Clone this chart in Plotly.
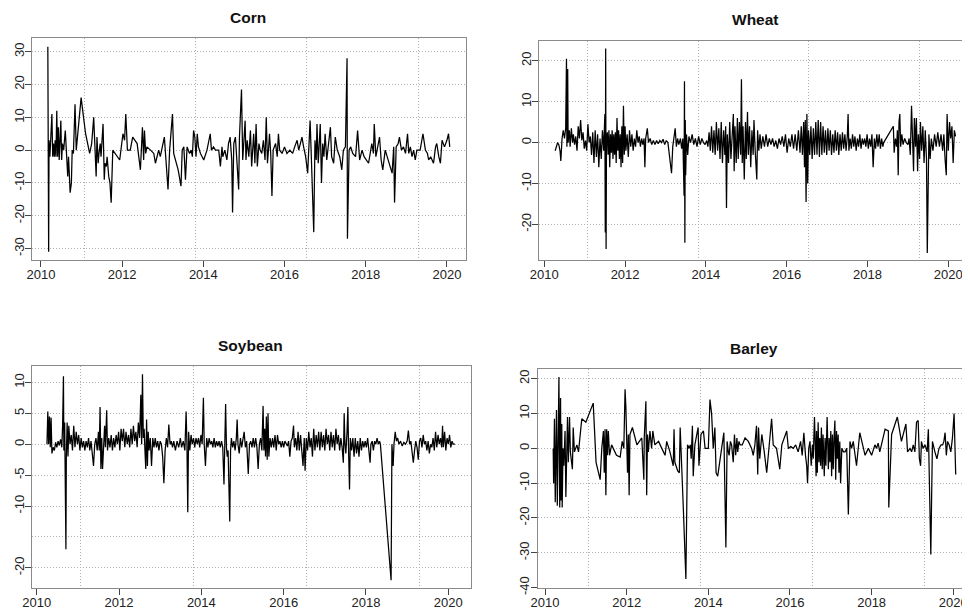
import plotly.graph_objects as go

# ---------------- data ----------------
corn_t = [2010.17, 2010.19, 2010.20, 2010.22, 2010.24, 2010.27, 2010.29, 2010.31, 2010.33, 2010.35,
          2010.37, 2010.39, 2010.41, 2010.43, 2010.45, 2010.47, 2010.49, 2010.51, 2010.53, 2010.56,
          2010.60, 2010.63, 2010.66, 2010.68, 2010.70, 2010.72, 2010.75, 2010.77, 2010.80, 2010.84,
          2010.87, 2010.90, 2010.99, 2011.03, 2011.10, 2011.20, 2011.25, 2011.30, 2011.33, 2011.36,
          2011.38, 2011.41, 2011.43, 2011.46, 2011.48, 2011.50, 2011.53, 2011.56, 2011.58, 2011.61,
          2011.63, 2011.67, 2011.70, 2011.73, 2011.77, 2011.94, 2012.02, 2012.06, 2012.09, 2012.13,
          2012.20, 2012.26, 2012.37, 2012.45, 2012.48, 2012.50, 2012.53, 2012.55, 2012.58, 2012.61,
          2012.70, 2012.78, 2012.82, 2012.90, 2012.94, 2013.04, 2013.13, 2013.17, 2013.24, 2013.27,
          2013.38, 2013.45, 2013.48, 2013.52, 2013.56, 2013.60, 2013.66, 2013.70, 2013.73, 2013.76,
          2013.79, 2013.82, 2013.85, 2013.88, 2013.93, 2014.01, 2014.09, 2014.13, 2014.17, 2014.20,
          2014.25, 2014.30, 2014.38, 2014.42, 2014.46, 2014.48, 2014.53, 2014.58, 2014.62, 2014.66,
          2014.70, 2014.72, 2014.75, 2014.79, 2014.82, 2014.87, 2014.89, 2014.94, 2014.97, 2015.00,
          2015.03, 2015.05, 2015.08, 2015.12, 2015.16, 2015.19, 2015.22, 2015.24, 2015.27, 2015.30,
          2015.33, 2015.37, 2015.40, 2015.44, 2015.48, 2015.52, 2015.55, 2015.58, 2015.61, 2015.63,
          2015.66, 2015.69, 2015.72, 2015.78, 2015.82, 2015.85, 2015.88, 2015.94, 2016.00, 2016.06,
          2016.13, 2016.20, 2016.25, 2016.31, 2016.35, 2016.43, 2016.47, 2016.52, 2016.57, 2016.60,
          2016.63, 2016.66, 2016.69, 2016.72, 2016.75, 2016.78, 2016.80, 2016.83, 2016.86, 2016.88,
          2016.91, 2016.94, 2016.97, 2017.00, 2017.04, 2017.08, 2017.13, 2017.16, 2017.21, 2017.25,
          2017.30, 2017.36, 2017.41, 2017.45, 2017.50, 2017.54, 2017.55, 2017.59, 2017.63, 2017.68,
          2017.75, 2017.80, 2017.85, 2017.91, 2017.96, 2018.07, 2018.12, 2018.15, 2018.19, 2018.21,
          2018.25, 2018.30, 2018.34, 2018.38, 2018.42, 2018.48, 2018.56, 2018.65, 2018.69, 2018.71,
          2018.75, 2018.80, 2018.83, 2018.88, 2018.93, 2018.98, 2019.03, 2019.06, 2019.10, 2019.14,
          2019.18, 2019.22, 2019.26, 2019.34, 2019.41, 2019.47, 2019.52, 2019.55, 2019.60, 2019.67,
          2019.72, 2019.75, 2019.80, 2019.84, 2019.88, 2019.94, 2020.00, 2020.04, 2020.07]
corn_v = [31.5, -31, 3, -2, 3, 11, -2, 2, -2, 3,
          -2, 12, -2, 7, -3, 3, 9, -3, 2, 0,
          6, -1, -8, -2, -6, -13, -10, 0, -1, 14,
          0, 4, 16, 12, 5, -1, 2, 10, 3, -8,
          4, -4, -1, 2, -2, 2, 8, -9, -4, -5,
          -2, -8, -10, -16, 0, -3, 5, 3, 11, 0,
          0, 4, 2, -6, 1, 7, -3, 6, -1, 1,
          0, -1, -4, 0, -2, 4, -12, 0, 11, -1,
          -6, -11, 0, 1, -9, 1, -1, 0, -2, 6,
          4, -2, 5, 1, -1, -3, 0, 3, 5, 0,
          1, 0, 0, -5, 1, -2, 0, -3, 2, 4,
          -3, -19, 2, 4, -2, -12, 4, 18.5, -3, 2,
          9, -3, 3, -2, 6, -5, 2, 5, -4, 8,
          -5, 2, 0, -1, 3, -3, 10, -4, 1, 5,
          -1, -14, 0, 2, -2, 5, 0, -1, 1, -1,
          0, -1, 1, 3, 0, 4, 1, -2, -7, 3,
          9, -2, -13, -25, 3, -3, 8, -4, 3, 8,
          -10, 2, -2, 5, -3, 2, 7, -2, -4, 4,
          0, -2, -6, 0, 1, 28, -27, 0, 1, -1,
          -2, 6, -3, 0, -2, -4, 0, 2, -1, 8,
          -2, 2, 4, -3, -6, 0, -3, -7, 1, -16,
          1, 2, 4, 0, 1, -1, 5, -1, 1, -2,
          0, -3, 0, 0, 5, 0, -1, -3, -2, -4,
          1, 2, -2, -4, 3, 1, 3, 5, 1]

wheat_t = [2010.27, 2010.30, 2010.33, 2010.36, 2010.39, 2010.41, 2010.44, 2010.47, 2010.50, 2010.53,
           2010.55, 2010.56, 2010.58, 2010.59, 2010.62, 2010.64, 2010.67, 2010.70, 2010.72, 2010.75,
           2010.78, 2010.81, 2010.84, 2010.87, 2010.90, 2010.93, 2010.96, 2010.99, 2011.02, 2011.05,
           2011.08, 2011.11, 2011.14, 2011.17, 2011.20, 2011.23, 2011.26, 2011.29, 2011.32, 2011.35,
           2011.38, 2011.41, 2011.44, 2011.47, 2011.50, 2011.51, 2011.52, 2011.53, 2011.54, 2011.56,
           2011.58, 2011.60, 2011.62, 2011.64, 2011.66, 2011.68, 2011.70, 2011.72, 2011.74, 2011.76,
           2011.78, 2011.80, 2011.82, 2011.84, 2011.86, 2011.88, 2011.90, 2011.92, 2011.94, 2011.96,
           2011.98, 2012.00, 2012.02, 2012.05, 2012.08, 2012.11, 2012.14, 2012.17, 2012.20, 2012.23,
           2012.26, 2012.29, 2012.32, 2012.35, 2012.38, 2012.41, 2012.44, 2012.47, 2012.49, 2012.51,
           2012.55, 2012.58, 2012.62, 2012.66, 2012.70, 2012.74, 2012.78, 2012.82, 2012.86, 2012.90,
           2012.94, 2012.98, 2013.02, 2013.06, 2013.10, 2013.15, 2013.18, 2013.21, 2013.24, 2013.27,
           2013.30, 2013.33, 2013.37, 2013.40, 2013.43, 2013.46, 2013.47, 2013.48, 2013.49, 2013.50,
           2013.52, 2013.55, 2013.58, 2013.62, 2013.66, 2013.70, 2013.74, 2013.78, 2013.82, 2013.86,
           2013.90, 2013.94, 2013.98, 2014.02, 2014.05, 2014.08, 2014.11, 2014.14, 2014.17, 2014.20,
           2014.23, 2014.26, 2014.29, 2014.32, 2014.35, 2014.38, 2014.41, 2014.44, 2014.47, 2014.49,
           2014.51, 2014.53, 2014.56, 2014.59, 2014.62, 2014.65, 2014.68, 2014.70, 2014.72, 2014.75,
           2014.78, 2014.80, 2014.83, 2014.86, 2014.88, 2014.90, 2014.92, 2014.95, 2014.98, 2015.00,
           2015.03, 2015.05, 2015.08, 2015.11, 2015.14, 2015.17, 2015.19, 2015.22, 2015.26, 2015.28,
           2015.31, 2015.34, 2015.37, 2015.41, 2015.45, 2015.49, 2015.53, 2015.57, 2015.61, 2015.65,
           2015.69, 2015.73, 2015.77, 2015.81, 2015.85, 2015.89, 2015.93, 2015.97, 2016.01, 2016.05,
           2016.09, 2016.13, 2016.17, 2016.21, 2016.25, 2016.29, 2016.33, 2016.36, 2016.39, 2016.42,
           2016.44, 2016.46, 2016.48, 2016.50, 2016.52, 2016.54, 2016.57, 2016.60, 2016.63, 2016.66,
           2016.69, 2016.72, 2016.75, 2016.78, 2016.81, 2016.84, 2016.87, 2016.90, 2016.93, 2016.96,
           2016.99, 2017.02, 2017.05, 2017.08, 2017.11, 2017.14, 2017.17, 2017.20, 2017.23, 2017.26,
           2017.29, 2017.32, 2017.35, 2017.38, 2017.41, 2017.44, 2017.47, 2017.50, 2017.52, 2017.54,
           2017.57, 2017.60, 2017.63, 2017.66, 2017.69, 2017.72, 2017.75, 2017.78, 2017.81, 2017.84,
           2017.87, 2017.90, 2017.93, 2017.96, 2017.99, 2018.02, 2018.05, 2018.08, 2018.11, 2018.14,
           2018.17, 2018.20, 2018.23, 2018.26, 2018.29, 2018.32, 2018.35, 2018.38, 2018.40, 2018.64,
           2018.66, 2018.69, 2018.72, 2018.74, 2018.76, 2018.78, 2018.80, 2018.82, 2018.85, 2018.88,
           2018.92, 2018.96, 2019.00, 2019.03, 2019.06, 2019.09, 2019.11, 2019.14, 2019.16, 2019.19,
           2019.21, 2019.24, 2019.26, 2019.29, 2019.31, 2019.34, 2019.37, 2019.40, 2019.43, 2019.46,
           2019.48, 2019.50, 2019.52, 2019.55, 2019.58, 2019.62, 2019.66, 2019.70, 2019.74, 2019.78,
           2019.82, 2019.86, 2019.89, 2019.92, 2019.95, 2019.97, 2020.00, 2020.03, 2020.06, 2020.09,
           2020.12, 2020.15, 2020.18]
wheat_v = [-2, -1, 0, -0.5, -2, -4.5, 1, 3, 1, 3.5,
           20.5, -1, 18, 0, 3, -1, 3.5, 0, 2, -0.5,
           1.5, -2, 4, 1, 5.5, 0.5, 2.5, -1.5, 0.5, -2,
           4.5, 0, 1.5, -3, 2.5, -5, 3, -3.5, 2, -6,
           1, -4, 3, -2, 7, -22, 23, -26, 0, 2.5,
           -3, 3, -6, 2, -2.5, 3, -4, 2, -3, 2.5,
           -5, 6, -2, 3, -4, 2, -6, 4, -5, 9,
           -3, 4, -2, 2, -3.5, 3, -1, 2, -2, 1,
           -1, 3, 0, 1.5, -1, 1, -0.5, 1, -6, 1,
           3.5, 0, 1, -0.5, 0.5, -0.5, 0.5, -0.3, 0.5, 0,
           0.8, -0.5, 0.5, 0, -3, -7.5, -1, 1, 3.5, -1,
           1, -0.5, 1, -1.5, 1, -13, 15, -24.5, 5.5, -8,
           2, -3, 1.5, 0, 2, -0.5, 1, -1, 1.5, -0.5,
           1, 0, -0.5, 0.5, -1, 2.5, -2, 4, -2.5, 3,
           -3, 5, -2, 3.5, -4, 5, -5, 3, -3, 4,
           -16, 2, -5, 5, -4, 3, 7, -7, 4, -5,
           6, -4, 5, -3, 15.5, -5, 4, -9, 5, -4,
           7.5, -3, 4, -6, 3, -3, 5.5, -2, -9, 3,
           -2, 2, -1.5, 1.5, -1, 2, -1, 1, -0.5, 1,
           -1, 0.5, -1.5, 1, -0.5, 1.5, -1, 2, -2.5, 1,
           -1, 2, -1.5, 2, -2, 3, -2.5, 4, -3, 5,
           -6, 5.5, -14.5, 7, -10, 3, -3, 4, -4, 3.5,
           -3, 5, -3, 5.5, -3.5, 5, -3, 4, -2.5, 3,
           -3, 3.5, -2, 3, -3, 2, -2.5, 3, -2, 2.5,
           -3, 2, -2, 2.5, -1.5, 2, -2, 1.5, 7, -2,
           1, -1.5, 2, -1, 1.5, -2, 1, -1, 2, -1.5,
           1, -0.5, 1, -1, 2, -1.5, 1, -1, 2, -6,
           1, -1.5, 2, -1, 2, -1.5, 1, -1, 0, 4,
           -2.5, 1, -1, 3, -8, 5, 7, -1, 2, -0.5,
           1, 0, -0.5, 1, -3, 9, -1, -7, 6, -1,
           6, -7, 2, -4, 5, -2, 4, -5, 3, -4,
           -27, -5, 2, -4, 1, -2, 2, -1, 2.5, -1,
           2, -2, 2, -4, -8, 7, -2, 5, 1, 4,
           -5, 3, 1.5]

soy_t = [2010.25, 2010.27, 2010.29, 2010.31, 2010.33, 2010.35, 2010.37, 2010.40, 2010.43, 2010.46,
         2010.49, 2010.52, 2010.55, 2010.58, 2010.61, 2010.63, 2010.65, 2010.66, 2010.68, 2010.69,
         2010.71, 2010.72, 2010.74, 2010.76, 2010.78, 2010.81, 2010.84, 2010.87, 2010.90, 2010.93,
         2010.96, 2010.99, 2011.02, 2011.05, 2011.08, 2011.11, 2011.14, 2011.17, 2011.20, 2011.23,
         2011.26, 2011.29, 2011.32, 2011.35, 2011.38, 2011.41, 2011.44, 2011.47, 2011.50, 2011.52,
         2011.54, 2011.56, 2011.58, 2011.60, 2011.63, 2011.65, 2011.67, 2011.70, 2011.72, 2011.75,
         2011.78, 2011.81, 2011.84, 2011.87, 2011.90, 2011.93, 2011.96, 2011.99, 2012.02, 2012.05,
         2012.08, 2012.11, 2012.14, 2012.17, 2012.20, 2012.23, 2012.26, 2012.29, 2012.32, 2012.35,
         2012.38, 2012.41, 2012.44, 2012.47, 2012.50, 2012.53, 2012.55, 2012.57, 2012.59, 2012.61,
         2012.63, 2012.65, 2012.67, 2012.69, 2012.71, 2012.73, 2012.76, 2012.79, 2012.82, 2012.85,
         2012.88, 2012.91, 2012.94, 2012.97, 2013.00, 2013.03, 2013.06, 2013.09, 2013.12, 2013.15,
         2013.18, 2013.21, 2013.24, 2013.27, 2013.30, 2013.33, 2013.37, 2013.41, 2013.45, 2013.49,
         2013.52, 2013.56, 2013.60, 2013.63, 2013.65, 2013.67, 2013.69, 2013.72, 2013.75, 2013.78,
         2013.81, 2013.84, 2013.87, 2013.90, 2013.93, 2013.96, 2013.99, 2014.02, 2014.05, 2014.07,
         2014.10, 2014.13, 2014.16, 2014.19, 2014.22, 2014.25, 2014.28, 2014.31, 2014.34, 2014.37,
         2014.40, 2014.43, 2014.46, 2014.49, 2014.52, 2014.55, 2014.57, 2014.59, 2014.61, 2014.63,
         2014.65, 2014.67, 2014.69, 2014.71, 2014.73, 2014.76, 2014.79, 2014.82, 2014.85, 2014.87,
         2014.89, 2014.92, 2014.95, 2014.98, 2015.01, 2015.04, 2015.07, 2015.10, 2015.14, 2015.17,
         2015.20, 2015.23, 2015.26, 2015.29, 2015.32, 2015.35, 2015.38, 2015.41, 2015.44, 2015.47,
         2015.50, 2015.52, 2015.54, 2015.56, 2015.58, 2015.60, 2015.62, 2015.64, 2015.67, 2015.70,
         2015.73, 2015.76, 2015.79, 2015.82, 2015.85, 2015.88, 2015.91, 2015.94, 2015.97, 2016.00,
         2016.03, 2016.06, 2016.09, 2016.12, 2016.15, 2016.18, 2016.21, 2016.24, 2016.26, 2016.29,
         2016.32, 2016.35, 2016.38, 2016.41, 2016.44, 2016.47, 2016.50, 2016.52, 2016.55, 2016.58,
         2016.61, 2016.64, 2016.67, 2016.70, 2016.73, 2016.76, 2016.79, 2016.82, 2016.85, 2016.88,
         2016.91, 2016.94, 2016.97, 2017.00, 2017.03, 2017.06, 2017.09, 2017.12, 2017.15, 2017.18,
         2017.21, 2017.24, 2017.27, 2017.30, 2017.33, 2017.36, 2017.39, 2017.42, 2017.45, 2017.47,
         2017.49, 2017.51, 2017.54, 2017.56, 2017.58, 2017.60, 2017.62, 2017.65, 2017.68, 2017.71,
         2017.74, 2017.77, 2017.80, 2017.83, 2017.86, 2017.89, 2017.92, 2017.95, 2017.98, 2018.01,
         2018.04, 2018.07, 2018.10, 2018.12, 2018.15, 2018.18, 2018.21, 2018.24, 2018.27, 2018.30,
         2018.33, 2018.35, 2018.61, 2018.63, 2018.66, 2018.68, 2018.71, 2018.74, 2018.77, 2018.80,
         2018.84, 2018.88, 2018.92, 2018.96, 2019.00, 2019.03, 2019.06, 2019.09, 2019.12, 2019.15,
         2019.18, 2019.21, 2019.24, 2019.27, 2019.30, 2019.33, 2019.36, 2019.39, 2019.42, 2019.45,
         2019.48, 2019.51, 2019.54, 2019.57, 2019.60, 2019.63, 2019.66, 2019.69, 2019.72, 2019.75,
         2019.78, 2019.81, 2019.84, 2019.86, 2019.88, 2019.91, 2019.94, 2019.97, 2020.00, 2020.03,
         2020.06, 2020.09, 2020.12, 2020.16]
soy_v = [0, 5.3, 0, 4.5, -0.5, 4.3, -1.5, -0.5, -1, 0.3,
         -0.5, 0.5, -0.2, 0.8, -0.5, 3, 11, -1, 3.5, -6.5,
         -17, -2, 3.5, -2, 3, 0, 1.5, -1, 3, -0.5,
         2, 0, 1.5, -1, 1, -0.5, 0.5, -1, 0.5, -0.5,
         1, -1, 0.5, -1.5, -3.5, 0, 1, -1, 2, -1,
         6, -4, 1, -4, 1.5, 3, -0.5, 5.5, -1, 1,
         -0.5, 1.5, -1, 1, -0.5, 1.5, 0, 2, -1, 2.5,
         0.5, 2.5, -0.5, 2, 0, 1.5, -0.5, 2.5, 0, 3,
         0.5, 2, -0.5, 3.5, 1, 8, 0, 11.3, 1, 2.5,
         -1, -4, 4, -3.5, 2, -1, 1, -3.5, 1, -0.5,
         1, -0.5, 0.5, -1, 0.5, 0, -2, -6.3, -1, 1,
         -0.5, 3.2, 0, 0.5, -0.5, 0.5, -1, 0.5, -0.5, 1,
         -0.5, 0.5, -1, 5.3, 0, -11, 2, -1, 1.5, 0,
         1, -0.5, 1, 0, 1, -0.5, 1.5, 0, 7.5, 0,
         -3.5, 1, -0.5, 1, 0, 0.5, -0.5, 1, -0.5, 0.5,
         -0.3, 0.5, -0.5, 0.5, -0.5, -6.5, 0, 6.5, -0.5, -2,
         -1, -9, -12.5, -1, 1, -0.5, 0.5, -1, 1, 4,
         0, -1.5, 1, -0.5, 0.5, 2, -0.5, 0.5, -4.8, 0,
         0.5, -0.5, 1, -0.5, 1, -0.5, -4, 0, 1, -1,
         6.2, -1, 2.5, -2, 4.5, -2.5, 5, -2, 1, -0.5,
         1, -0.5, 1.5, -1, 1.5, 0, 0.5, -0.5, 0.5, -0.5,
         0.5, 0, -0.3, 0.5, -2, 0.5, 1, 3, -0.5, 1,
         -1, 2, -1, 1.5, -1, -3.5, 1, -4.3, 1, -1,
         2, -0.5, 1, -2, 2.5, -1, 1.5, -0.5, 2, -1,
         2, -0.5, 1.5, -1, 2.5, 0, 1.5, -1, 2, -0.5,
         1.5, -1, 2.5, 0, 1.5, -1, 1, -0.5, -3, 5,
         0, -1.5, 2, 6, -2, -7.3, 1, -1, 1, -2,
         1, -1.5, 0.5, -2, 1, -1, 0.5, -0.5, 0.5, -0.5,
         1, -1, -3, 0, 0.5, -1, 0.5, 0, 1, 0,
         0.5, 0, -22, 0, -3.5, 0, 2, 0.5, 1, 0,
         0.5, -0.3, 0.3, 0, 0.5, 2.2, 0, 0.5, -1, -3,
         -1, 0.5, -0.5, -2.5, 0.5, 1, -0.5, 1.5, 0, 0.5,
         -1, 0.5, -1.5, 0, -0.5, 1, -1, 2, -0.5, 1.5,
         0, 1, -0.5, 3, -0.5, 2, -1, 1, 0, 1.5,
         -0.5, 0.5, 0, 0]

barley_t = [2010.20, 2010.21, 2010.23, 2010.25, 2010.28, 2010.30, 2010.34, 2010.36, 2010.38, 2010.39,
            2010.41, 2010.42, 2010.44, 2010.46, 2010.49, 2010.51, 2010.55, 2010.57, 2010.60, 2010.62,
            2010.67, 2010.69, 2010.72, 2010.78, 2010.82, 2010.90, 2011.00, 2011.18, 2011.25, 2011.35,
            2011.39, 2011.43, 2011.45, 2011.47, 2011.49, 2011.51, 2011.53, 2011.55, 2011.58, 2011.63,
            2011.75, 2011.84, 2011.89, 2011.93, 2011.96, 2011.98, 2012.02, 2012.04, 2012.06, 2012.08,
            2012.14, 2012.25, 2012.37, 2012.42, 2012.43, 2012.47, 2012.49, 2012.51, 2012.53, 2012.57,
            2012.61, 2012.64, 2012.69, 2012.78, 2012.86, 2012.94, 2012.98, 2013.06, 2013.14, 2013.16,
            2013.18, 2013.25, 2013.29, 2013.31, 2013.39, 2013.45, 2013.49, 2013.53, 2013.56, 2013.58,
            2013.61, 2013.63, 2013.67, 2013.75, 2013.77, 2013.82, 2013.88, 2013.92, 2014.00, 2014.04,
            2014.08, 2014.12, 2014.16, 2014.19, 2014.23, 2014.27, 2014.38, 2014.43, 2014.46, 2014.49,
            2014.51, 2014.54, 2014.57, 2014.61, 2014.64, 2014.67, 2014.70, 2014.72, 2014.75, 2014.78,
            2014.83, 2014.90, 2014.98, 2015.06, 2015.10, 2015.14, 2015.18, 2015.21, 2015.23, 2015.26,
            2015.31, 2015.37, 2015.43, 2015.55, 2015.59, 2015.67, 2015.75, 2015.80, 2015.92, 2015.96,
            2016.02, 2016.08, 2016.14, 2016.20, 2016.26, 2016.30, 2016.34, 2016.38, 2016.41, 2016.43,
            2016.46, 2016.49, 2016.52, 2016.55, 2016.57, 2016.60, 2016.62, 2016.64, 2016.65, 2016.67,
            2016.69, 2016.71, 2016.73, 2016.75, 2016.77, 2016.79, 2016.81, 2016.84, 2016.86, 2016.88,
            2016.91, 2016.94, 2016.96, 2016.98, 2017.00, 2017.02, 2017.04, 2017.06, 2017.08, 2017.10,
            2017.12, 2017.14, 2017.16, 2017.18, 2017.20, 2017.22, 2017.24, 2017.27, 2017.31, 2017.35,
            2017.39, 2017.43, 2017.47, 2017.51, 2017.55, 2017.59, 2017.63, 2017.71, 2017.78, 2017.84,
            2017.92, 2018.00, 2018.08, 2018.12, 2018.16, 2018.20, 2018.33, 2018.41, 2018.42, 2018.49,
            2018.63, 2018.73, 2018.84, 2018.88, 2018.94, 2018.98, 2019.02, 2019.06, 2019.10, 2019.14,
            2019.17, 2019.20, 2019.22, 2019.26, 2019.31, 2019.36, 2019.39, 2019.43, 2019.45, 2019.49,
            2019.52, 2019.55, 2019.60, 2019.65, 2019.70, 2019.74, 2019.77, 2019.80, 2019.83, 2019.86,
            2019.90, 2019.94, 2019.98, 2020.02, 2020.06]
barley_v = [0, -10, 8.5, -15.5, 11, -16.5, 20.5, -17, 14.5, -15,
            7, -17, 0, -5, 5, -14, 9, -4, 9, -1,
            -6, 6, -1, 1, -1, 8.5, 7.5, 13, -4, -9,
            0, 5, -7, 5.5, -13.5, 5.5, -2, 5, -2, 1,
            -2, -2.5, 2, 0, 17, 12, -7, 4, -13.5, 4,
            6, 1, 3, -9, 3, 13.5, -13.5, 4, -1, 5,
            0, 5, 1, 2, 0, -2, 2, -1, -5, 5.5,
            -4, -6.5, -7, 6, -18, -37.5, 1, 0, 1, -3,
            6.5, -8, 1, 6, -5, 4, 5, 0, 0, 14,
            10, 0, 6, -7, -8, -5, 4.5, -28.5, 2, -1,
            -2, 2, 1, -4, 4, -2, 3, -1, 2, 1,
            1, 3, 2, 0, -2, 1, 6.5, -7.5, 6, -3,
            4, -1, -7, 8.5, 1, 0, -6, 1, 5, 0,
            0.5, 0, 1, -1, 2, -2, 4.5, -2, -5, -10,
            0, 2, -5, 1, -3, 9, -3, -8, 5, -7,
            7.5, -4, 3, -5, 6, -6, 4, -8, 3, -5,
            9, -6, 3, -4, 5, -8, 4, -6, 3, 8,
            -9, 5, -3, 4, -7, 2, -10, 0, -1, -1,
            0, -19, 2, 0, 2, -1, -5, 4.5, 1, -2,
            0, -2, 1, 0, 1.5, -1, 5.5, 5, -17, 4,
            9, 2, 7, -1, 0, -1, 1, -1, 7.5, 8,
            -3, -5, 2, 0, 1, -1, 5.5, -18, -30.5, 2,
            0, -1, -3, 0, 1, 1, 2, 4.5, -2, 2,
            1, -1, 3, 10, -7.5]

x_tick_years = [2010, 2012, 2014, 2016, 2018, 2020]
v_grid_years = [2011.07, 2013.81, 2016.55, 2019.29]

# The page adds an 8 px body margin, so the figure is laid out in page pixels minus 8.
OFF = 8
W, H = 970 - OFF, 613 - OFF


def xdom(left, right):
    return [max(0.0, (left - OFF) / W), min(1.0, (right - OFF) / W)]


def ydom(top, bottom):
    return [1 - (bottom - OFF) / H, 1 - (top - OFF) / H]


panels = [
    # name, t, v, x domain, y domain, x range, y range, y ticks, y grid, title px
    ("Corn", corn_t, corn_v, xdom(32, 466), ydom(38, 260), [2009.78, 2020.47], [-33.5, 34.2],
     [-30, -20, -10, 0, 10, 20, 30], [-30, -20, -10, 0, 10, 20, 30], (248, 18)),
    ("Wheat", wheat_t, wheat_v, xdom(539.3, 970), ydom(40.7, 260), [2009.877, 2020.537], [-28.7, 24.9],
     [-20, -10, 0, 10, 20], [-20, -10, 0, 10, 20], (755, 20)),
    ("Soybean", soy_t, soy_v, xdom(32, 470.7), ydom(365.7, 588.3), [2009.886, 2020.544], [-23.3, 12.7],
     [-20, -10, -5, 0, 5, 10], [-20, -15, -10, -5, 0, 5, 10], (250, 345)),
    ("Barley", barley_t, barley_v, xdom(537.7, 970), ydom(369, 588.3), [2009.82, 2020.41], [-40.2, 22.8],
     [-40, -30, -20, -10, 0, 10, 20], [-40, -30, -20, -10, 0, 10, 20], (754, 348)),
]

fig = go.Figure()
layout = dict(width=W, height=H, margin=dict(l=0, r=0, t=0, b=0, autoexpand=False),
              paper_bgcolor="white", plot_bgcolor="white", showlegend=False,
              font=dict(family="Liberation Sans, Arial, sans-serif", size=12, color="#222"))
annotations = []
tick_font = dict(family="Liberation Sans, Arial, sans-serif", size=13, color="#222")
grid_color = "#b0b0b0"
grid_dash = "1px,2px"
for i, (name, t, v, xd, yd, xr, yr, yt, yg, tp) in enumerate(panels, start=1):
    xa = "x" if i == 1 else f"x{i}"
    ya = "y" if i == 1 else f"y{i}"
    fig.add_trace(go.Scatter(x=t, y=v, mode="lines", line=dict(color="black", width=1.25),
                             xaxis=xa, yaxis=ya, hoverinfo="skip"))
    xkey = "xaxis" if i == 1 else f"xaxis{i}"
    ykey = "yaxis" if i == 1 else f"yaxis{i}"
    layout[xkey] = dict(domain=xd, range=xr, anchor=ya, tickvals=x_tick_years,
                        ticktext=[str(y) for y in x_tick_years], ticks="outside", ticklen=6,
                        tickcolor="#444", showgrid=False, zeroline=False, showline=True,
                        linecolor="#8a8a8a", linewidth=1.2, mirror=True, tickfont=tick_font,
                        automargin=False, ticklabelstandoff=-4,
                        minor=dict(tickvals=v_grid_years, showgrid=True, gridcolor=grid_color,
                                   griddash=grid_dash, gridwidth=1, ticks=""))
    layout[ykey] = dict(domain=yd, range=yr, anchor=xa, tickvals=yt, ticktext=[str(y) for y in yt],
                        ticks="outside", ticklen=6, tickcolor="#444", tickangle=-90,
                        showgrid=False, zeroline=False, showline=True, linecolor="#8a8a8a",
                        linewidth=1.2, mirror=True, tickfont=tick_font, automargin=False,
                        ticklabelstandoff=-4,
                        minor=dict(tickvals=yg, showgrid=True, gridcolor=grid_color,
                                   griddash=grid_dash, gridwidth=1, ticks=""))
    px, py = tp
    annotations.append(dict(text=f"<b>{name}</b>", x=(px - OFF) / W, y=1 - (py - OFF) / H,
                            xref="paper", yref="paper", showarrow=False,
                            xanchor="center", yanchor="middle",
                            font=dict(family="Liberation Sans, Arial, sans-serif", size=15.5, color="#111")))
layout["annotations"] = annotations
fig.update_layout(**layout)
fig.write_html("out.html")
